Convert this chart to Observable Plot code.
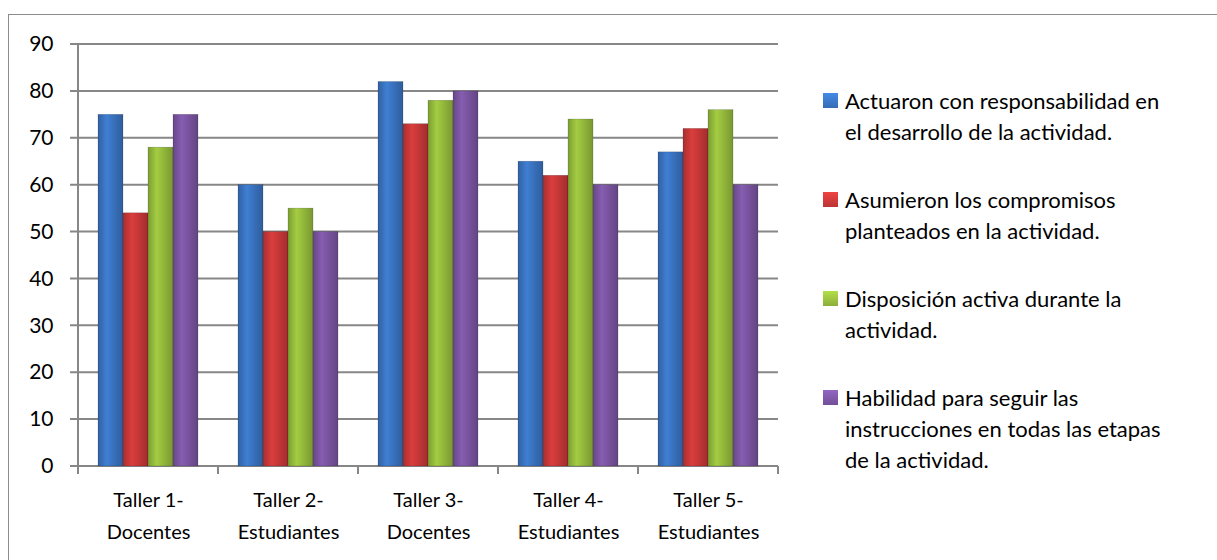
<!DOCTYPE html>
<html><head><meta charset="utf-8">
<script src="https://cdn.jsdelivr.net/npm/d3@7"></script>
<script src="https://cdn.jsdelivr.net/npm/@observablehq/plot@0.6"></script>
<style>
html,body{margin:0;padding:0;background:#fff;overflow:hidden;width:1217px;height:560px;}
#wrap{position:relative;width:1217px;height:560px;font-family:Lato,"Open Sans",sans-serif;color:#000;}
#border{position:absolute;left:8px;top:14px;width:1400px;height:800px;border:1.5px solid #8c8c8c;box-sizing:border-box;}
#chart{position:absolute;left:0;top:0;}
#legend{position:absolute;left:823px;top:85px;font-size:22px;line-height:31px;}
.item{display:flex;align-items:flex-start;margin-bottom:37px;}
.sw{width:15px;height:15px;flex:0 0 15px;margin-top:8px;margin-right:7px;}
</style></head>
<body><div id="wrap"><div id="border"></div><div id="chart"></div><div id="legend"></div></div>
<script>
const categories = ["Taller 1-\nDocentes","Taller 2-\nEstudiantes","Taller 3-\nDocentes","Taller 4-\nEstudiantes","Taller 5-\nEstudiantes"];
const series = [
  "Actuaron con responsabilidad en el desarrollo de la actividad.",
  "Asumieron los compromisos planteados en la actividad.",
  "Disposición activa durante la actividad.",
  "Habilidad para seguir las instrucciones en todas las etapas de la actividad."
];
const legendLines = [
  ["Actuaron con responsabilidad en","el desarrollo de la actividad."],
  ["Asumieron los compromisos","planteados en la actividad."],
  ["Disposición activa durante la","actividad."],
  ["Habilidad para seguir las","instrucciones en todas las etapas","de la actividad."]
];
const actuaron = [75, 60, 82, 65, 67];
const asumieron = [54, 50, 73, 62, 72];
const disposicion = [68, 55, 78, 74, 76];
const habilidad = [75, 50, 80, 60, 60];
const yTicks = [0,10,20,30,40,50,60,70,80,90];
const colors = ["#3c78c8","#d03a3a","#9bc23f","#7f58a8"];

const seriesValues = [actuaron, asumieron, disposicion, habilidad];
const data = [];
categories.forEach((c, i) => series.forEach((s, j) => data.push({cat: c, series: s, value: seriesValues[j][i]})));

const chart = Plot.plot({
  width: 790, height: 560,
  marginLeft: 78, marginRight: 12, marginTop: 44, marginBottom: 94,
  style: {fontFamily: "Lato, 'Open Sans', sans-serif", fontSize: "19.5px", color: "#000", background: "transparent", overflow: "visible"},
  fx: {domain: categories, paddingInner: 0.27, paddingOuter: 0.135, label: null},
  x: {domain: series, axis: null, padding: 0},
  y: {domain: [0, 90], label: null},
  color: {domain: series, range: colors},
  marks: [
    Plot.axisY({ticks: yTicks, tickSize: 0, tickPadding: 44, label: null, fontSize: 21}),
    Plot.axisFx({anchor: "bottom", tickSize: 0, tickPadding: 18, label: null, lineHeight: 1.6, fontSize: 20}),
    Plot.barY(data, {fx: "cat", x: "series", y: "value", fill: "series", stroke: "rgba(0,0,0,0.25)", strokeWidth: 0.6})
  ]
});
document.getElementById("chart").appendChild(chart);

// gridlines, axis line and category ticks from the library scales
const svg = d3.select(chart);
const y = chart.scale("y"), fx = chart.scale("fx");
const step = fx.step, bw = fx.bandwidth;
const left0 = fx.apply(categories[0]) - (step - bw) / 2;
const right0 = fx.apply(categories[categories.length - 1]) + bw + (step - bw) / 2;
const g = svg.insert("g", "g").attr("stroke", "#878787").attr("stroke-width", 2);
yTicks.forEach(t => g.append("line").attr("x1", left0 - 8).attr("x2", right0).attr("y1", y.apply(t)).attr("y2", y.apply(t)));
g.append("line").attr("x1", left0).attr("x2", left0).attr("y1", y.apply(90)).attr("y2", y.apply(0) + 8);
categories.forEach(c => {
  const xr = fx.apply(c) + bw + (step - bw) / 2;
  g.append("line").attr("x1", xr).attr("x2", xr).attr("y1", y.apply(0)).attr("y2", y.apply(0) + 8);
});

// shaded fills
const defs = svg.insert("defs", ":first-child");
const gradId = {};
colors.forEach((c, i) => {
  const id = "grad" + i; gradId[d3.color(c).formatHex()] = id;
  const lg = defs.append("linearGradient").attr("id", id).attr("x1", "0").attr("x2", "1").attr("y1", "0").attr("y2", "0");
  lg.append("stop").attr("offset", "0%").attr("stop-color", d3.color(c).darker(0.6));
  lg.append("stop").attr("offset", "35%").attr("stop-color", d3.color(c).brighter(0.15));
  lg.append("stop").attr("offset", "100%").attr("stop-color", d3.color(c).darker(0.7));
});
svg.selectAll("g[aria-label='bar'] rect").each(function() {
  const f = this.getAttribute("fill");
  if (f) { const h = d3.color(f).formatHex(); if (gradId[h]) this.setAttribute("fill", `url(#${gradId[h]})`); }
});

// legend
const legend = d3.select("#legend");
series.forEach((s, i) => {
  const it = legend.append("div").attr("class", "item");
  it.append("div").attr("class", "sw").style("background", `linear-gradient(180deg, ${d3.color(colors[i]).brighter(0.4)}, ${d3.color(colors[i]).darker(0.3)})`);
  it.append("div").html(legendLines[i].join("<br>"));
});
</script>
</body></html>
